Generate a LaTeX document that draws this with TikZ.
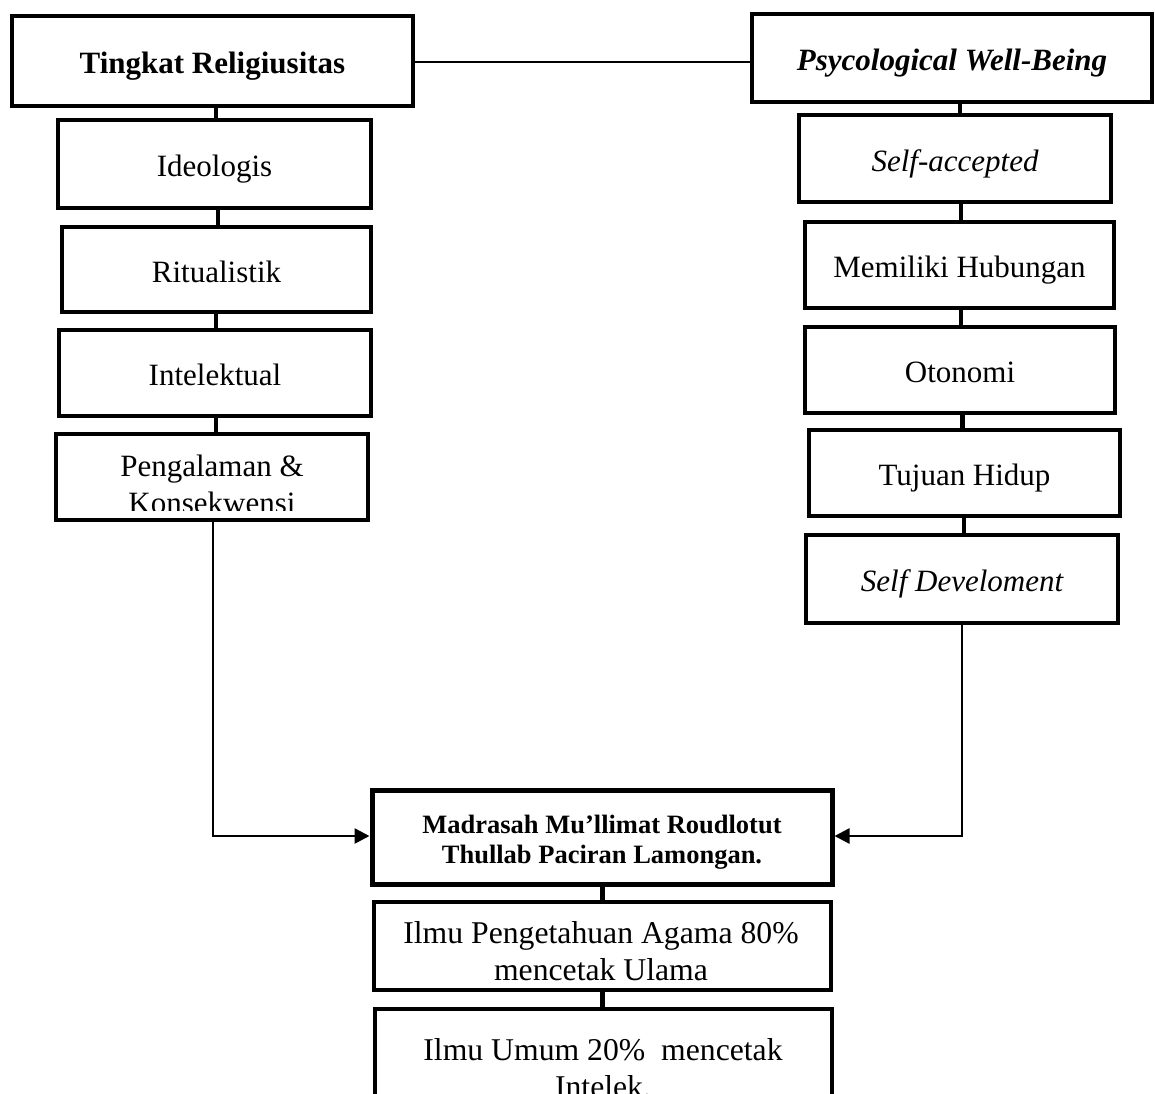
\documentclass[tikz,border=0pt]{standalone}
\usepackage{fontspec}
\setmainfont{Liberation Serif}
\usetikzlibrary{arrows.meta}
\tikzset{
  box/.style={draw, line width=4pt, fill=white, inner sep=0pt, align=center,
    text height=25pt, text depth=0pt,
    font=\fontsize{31}{37}\selectfont},
  txt/.style={inner sep=0pt, align=center, anchor=base, font=\fontsize{31}{37}\selectfont},
  link/.style={line width=4.5pt},
  conn/.style={line width=2.6pt, -{Triangle[length=15pt,width=15pt]}},
  thin/.style={line width=2pt}
}
\begin{document}
\begin{tikzpicture}[x=1pt,y=-1pt]
\useasboundingbox (0,0) rectangle (1155,1093);
\clip (0,0) rectangle (1155,1093);
% left column
\node[box, minimum width=401pt, minimum height=90pt] (tr) at (212.5,61) {\bfseries Tingkat Religiusitas};
\node[box, minimum width=313pt, minimum height=88pt] (ideo) at (214.5,164) {Ideologis};
\node[box, minimum width=309pt, minimum height=85pt] (rit) at (216.5,269.5) {Ritualistik};
\node[box, minimum width=312pt, minimum height=86pt] (intel) at (215,373) {Intelektual};
\node[box, minimum width=312pt, minimum height=86pt] (peng) at (212,477) {};
\begin{scope}
  \clip ([shift={(2,2)}]peng.north west) rectangle ([xshift=-2pt]peng.east |- 0,510);
  \node[txt] (pengtxt) at (212,513) {Pengalaman \&\\Konsekwensi};
\end{scope}
% right column
\node[box, minimum width=400pt, minimum height=88pt] (pwb) at (952,58) {\bfseries\itshape Psycological Well-Being};
\node[box, minimum width=312pt, minimum height=87pt] (sa) at (955,158.5) {\itshape Self-accepted};
\node[box, minimum width=309pt, minimum height=86pt] (mem) at (959.5,265) {Memiliki Hubungan};
\node[box, minimum width=310pt, minimum height=86pt] (oto) at (960,370) {Otonomi};
\node[box, minimum width=311pt, minimum height=86pt] (tuj) at (964.5,473) {Tujuan Hidup};
\node[box, minimum width=312pt, minimum height=88pt] (sd) at (962,579) {\itshape Self Develoment};
% bottom column
\node[box, line width=5pt, minimum width=460pt, minimum height=94pt] (mad) at (602,837) {};
\node[txt, font=\bfseries\fontsize{26.5}{30}\selectfont] (madtxt) at (602,863)
  {Madrasah Mu’llimat Roudlotut\\Thullab Paciran Lamongan.};
\node[box, minimum width=457pt, minimum height=88pt] (ilp) at (602.5,946) {};
\node[txt, font=\fontsize{31.7}{37}\selectfont] (ilptxt) at (601,980)
  {Ilmu Pengetahuan Agama 80\%\\mencetak Ulama};
\node[box, minimum width=457pt, minimum height=111pt] (ilu) at (603.5,1064.5) {};
\node[txt, font=\fontsize{31.7}{37}\selectfont] (ilutxt) at (603,1097)
  {Ilmu Umum 20\%\ \ mencetak\\Intelek.};
% connectors
\draw[thin] (tr.east |- 0,62) -- (pwb.west |- 0,62);
\draw[link] ([xshift=1.5pt]ideo.north |- tr.south) -- ([xshift=1.5pt]ideo.north);
\draw[link] ([xshift=1.5pt]rit.north |- ideo.south) -- ([xshift=1.5pt]rit.north);
\draw[link] ([xshift=1pt]intel.north |- rit.south) -- ([xshift=1pt]intel.north);
\draw[link] ([xshift=4pt]peng.north |- intel.south) -- ([xshift=4pt]peng.north);
\draw[link] ([xshift=5pt]sa.north |- pwb.south) -- ([xshift=5pt]sa.north);
\draw[link] ([xshift=1.5pt]mem.north |- sa.south) -- ([xshift=1.5pt]mem.north);
\draw[link] ([xshift=1pt]oto.north |- mem.south) -- ([xshift=1pt]oto.north);
\draw[link] ([xshift=-2pt]tuj.north |- oto.south) -- ([xshift=-2pt]tuj.north);
\draw[link] ([xshift=2pt]sd.north |- tuj.south) -- ([xshift=2pt]sd.north);
\draw[link] (ilp.north |- mad.south) -- (ilp.north);
\draw[link] (ilu.north -| ilp.south) -- (ilp.south);
\draw[conn] ([xshift=1pt]peng.south) |- ([yshift=1pt]mad.west);
\draw[conn] (sd.south) |- ([yshift=1pt]mad.east);
\end{tikzpicture}
\end{document}
